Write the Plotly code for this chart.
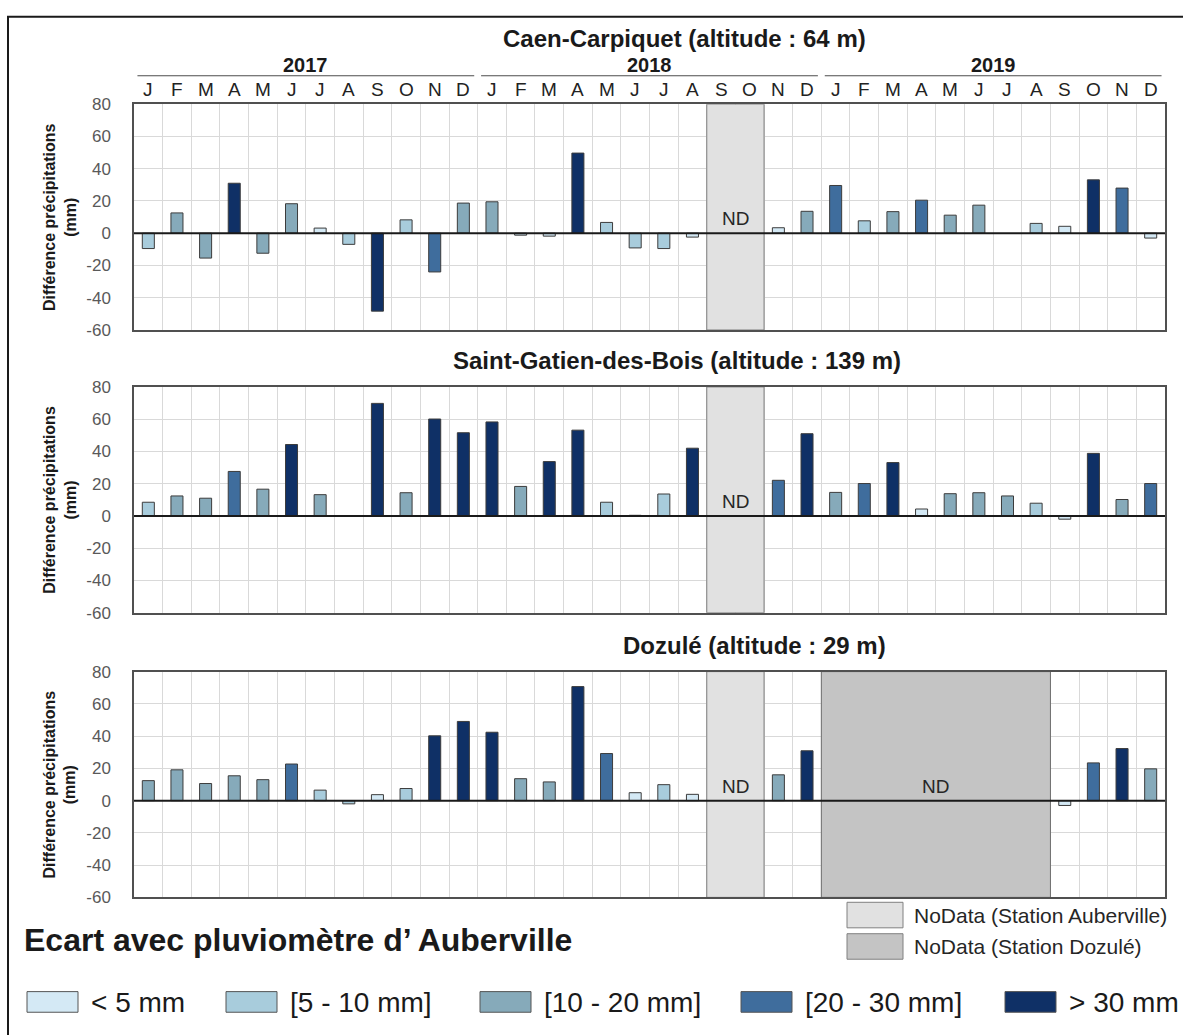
import plotly.graph_objects as go
from plotly.subplots import make_subplots

# data
months = ["J", "F", "M", "A", "M", "J", "J", "A", "S", "O", "N", "D"]
years = ["2017", "2018", "2019"]
stations = ["Caen-Carpiquet (altitude : 64 m)",
            "Saint-Gatien-des-Bois (altitude : 139 m)",
            "Dozulé (altitude : 29 m)"]

classes = ["< 5 mm", "[5 - 10 mm]", "[10 - 20 mm]", "[20 - 30 mm]", "> 30 mm"]
class_colors = ["#d4e9f5", "#a8ccdc", "#86aaba", "#3f6d9d", "#0f3066"]

# monthly difference (mm), Jan 2017 -> Dec 2019, None = no bar
caen = [-9.5, 12.6, -15.4, 31, -12.4, 18.3, 3.2, -6.9, -48.3, 8.3, -24, 18.7,
        19.5, -1.2, -1.8, 49.7, 6.7, -9.1, -9.5, -2.4, None, None, 3.4, 13.6,
        29.6, 7.7, 13.4, 20.5, 11.2, 17.4, None, 6.1, 4.3, 33.1, 28, -3]
caen_cls = [1, 2, 2, 4, 2, 2, 0, 1, 4, 1, 3, 2,
            2, 0, 0, 4, 1, 1, 1, 0, None, None, 0, 2,
            3, 1, 2, 3, 2, 2, None, 1, 0, 4, 3, 0]

gatien = [8.5, 12.4, 11, 27.6, 16.6, 44.3, 13.2, None, 69.8, 14.4, 60.1, 51.6,
          58.3, 18.3, 33.7, 53.2, 8.5, 0.4, 13.6, 42, None, None, 22.1, 51,
          14.6, 20.1, 33.1, 4.3, 13.8, 14.4, 12.4, 7.9, -2, 38.8, 10.2, 20.1]
gatien_cls = [1, 2, 2, 3, 2, 4, 2, None, 4, 2, 4, 4,
              4, 2, 4, 4, 1, 0, 1, 4, None, None, 3, 4,
              2, 3, 4, 0, 2, 2, 2, 1, 0, 4, 2, 3]

dozule = [12.4, 19.1, 10.6, 15.4, 13, 22.7, 6.5, -2, 3.7, 7.5, 40.2, 49.1,
          42.4, 13.6, 11.6, 70.7, 29.2, 4.9, 9.9, 3.9, None, None, 16, 30.9,
          None, None, None, None, None, None, None, None, -3, 23.4, 32.3, 19.7]
dozule_cls = [2, 2, 2, 2, 2, 3, 1, 1, 0, 1, 4, 4,
              4, 2, 2, 4, 3, 0, 1, 0, None, None, 2, 4,
              None, None, None, None, None, None, None, None, 0, 3, 4, 2]

# no-data periods (first, last month index from Jan 2017)
nd_auberville = (20, 21)      # Sep-Oct 2018, all stations
nd_dozule = (24, 31)          # Jan-Aug 2019, Dozulé only
nd_labels = ["NoData (Station Auberville)", "NoData (Station Dozulé)"]
nd_colors = ["#e1e1e1", "#c4c4c4"]

W, H = 1183, 1035
FONT = "Arial, Liberation Sans, sans-serif"
YMIN, YMAX = -60, 80


def px(x):
    return x / W


def py(y):
    return 1 - y / H


series = [(caen, caen_cls), (gatien, gatien_cls), (dozule, dozule_cls)]
panels = [(97, 327), (385, 615), (675, 905)]
title_x = [684, 677, 755]
title_y = [30, 358, 648]

fig = make_subplots(rows=3, cols=1)
x = list(range(36))

for i, (vals, cls) in enumerate(series):
    xr = "x" if i == 0 else f"x{i + 1}"
    yr = "y" if i == 0 else f"y{i + 1}"

    # no-data bands, drawn as full-height bars under the values
    bands = [(nd_auberville, nd_colors[0], "#808080")]
    if i == 2:
        bands.append((nd_dozule, nd_colors[1], "#6e6e6e"))
    for (a, b), fc, lc in bands:
        fig.add_trace(go.Bar(x=[(a + b) / 2], y=[YMAX - YMIN], base=[YMIN], width=[b - a + 1],
                             marker=dict(color=fc, line=dict(color=lc, width=1)),
                             showlegend=False, hoverinfo="skip"), row=i + 1, col=1)
        fig.add_annotation(x=(a + b) / 2, y=9, xref=xr, yref=yr, text="ND", showarrow=False,
                           xanchor="center", yanchor="middle",
                           font=dict(family=FONT, size=19, color="#262626"))

    cols = [class_colors[c] if c is not None else "#ffffff" for c in cls]
    fig.add_trace(go.Bar(x=x, y=vals, width=0.42,
                         marker=dict(color=cols, line=dict(color="#3c3c3c", width=1)),
                         showlegend=False, hoverinfo="x+y"), row=i + 1, col=1)

for i, (top, bot) in enumerate(panels):
    xa = "xaxis" if i == 0 else f"xaxis{i + 1}"
    ya = "yaxis" if i == 0 else f"yaxis{i + 1}"
    xr = "x" if i == 0 else f"x{i + 1}"
    yr = "y" if i == 0 else f"y{i + 1}"
    fig.layout[xa].update(domain=[px(134), px(1165)], range=[-0.5, 35.5],
                          tickvals=[k - 0.5 for k in range(37)], showticklabels=False,
                          ticks="", showgrid=True, gridcolor="#d9d9d9", gridwidth=1,
                          showline=True, mirror=True, linecolor="#505050", linewidth=1.5,
                          zeroline=False, fixedrange=True)
    yt = list(range(YMIN, YMAX + 1, 20))
    fig.layout[ya].update(domain=[py(bot), py(top)], range=[YMIN, YMAX],
                          tickvals=yt, ticktext=[str(v) for v in yt], showgrid=True,
                          gridcolor="#d9d9d9", gridwidth=1, zeroline=False,
                          showline=True, mirror=True, linecolor="#505050", linewidth=1.5,
                          ticks="outside", ticklen=18, tickcolor="rgba(0,0,0,0)",
                          tickfont=dict(family=FONT, size=17, color="#595959"),
                          fixedrange=True)

    # zero line
    fig.add_shape(type="line", xref=f"{xr} domain", yref=yr, x0=0, x1=1, y0=0, y1=0,
                  line=dict(color="#1a1a1a", width=2))

    # panel title
    fig.add_annotation(x=px(title_x[i]), y=py(title_y[i]), xref="paper", yref="paper",
                       xanchor="center", yanchor="middle",
                       text=f"<b>{stations[i]}</b>", showarrow=False,
                       font=dict(family=FONT, size=24, color="#1a1a1a"))
    # y axis title
    fig.add_annotation(x=px(60), y=py((top + bot) / 2), xref="paper", yref="paper",
                       xanchor="center", yanchor="middle",
                       text="<b>Différence précipitations<br>(mm)</b>", showarrow=False,
                       textangle=-90, font=dict(family=FONT, size=16, color="#1a1a1a"))

# month / year header above first panel
for k in range(36):
    fig.add_annotation(x=k, y=py(82), xref="x", yref="paper", text=months[k % 12],
                       xanchor="center", yanchor="middle", showarrow=False,
                       font=dict(family=FONT, size=19, color="#222222"))
for j, yr_txt in enumerate(years):
    fig.add_annotation(x=12 * j + 5.5, y=py(57), xref="x", yref="paper",
                       xanchor="center", yanchor="middle",
                       text=f"<b>{yr_txt}</b>", showarrow=False,
                       font=dict(family=FONT, size=20, color="#1a1a1a"))
    fig.add_shape(type="line", xref="x", yref="paper", x0=12 * j - 0.5 + 0.12,
                  x1=12 * j + 11.5 - 0.12, y0=py(68), y1=py(68),
                  line=dict(color="#4d4d4d", width=1))

# outer frame
fig.add_shape(type="rect", xref="paper", yref="paper", x0=px(8), x1=px(1200),
              y0=py(1050), y1=py(8), line=dict(color="#1a1a1a", width=2))

# bottom legend
fig.add_annotation(x=px(22), y=py(948), xref="paper", yref="paper", xanchor="left",
                   yanchor="middle",
                   text="<b>Ecart avec pluviomètre d’ Auberville</b>", showarrow=False,
                   font=dict(family=FONT, size=32, color="#1a1a1a"))

sw_x = [27, 226, 480, 741, 1005]
for k, lab in enumerate(classes):
    fig.add_shape(type="rect", xref="paper", yref="paper", x0=px(sw_x[k]), x1=px(sw_x[k] + 51),
                  y0=py(1022), y1=py(1001), fillcolor=class_colors[k],
                  line=dict(color="#555555", width=1))
    fig.add_annotation(x=px(sw_x[k] + 62), y=py(1012), xref="paper", yref="paper",
                       xanchor="left", yanchor="middle", text=lab, showarrow=False,
                       font=dict(family=FONT, size=28, color="#1a1a1a"))

for k, lab in enumerate(nd_labels):
    y0 = 910 + 32 * k
    fig.add_shape(type="rect", xref="paper", yref="paper", x0=px(847), x1=px(903),
                  y0=py(y0 + 26), y1=py(y0), fillcolor=nd_colors[k],
                  line=dict(color="#808080", width=1))
    fig.add_annotation(x=px(912), y=py(y0 + 13), xref="paper", yref="paper",
                       xanchor="left", yanchor="middle", text=lab, showarrow=False,
                       font=dict(family=FONT, size=21, color="#262626"))

fig.update_layout(width=W, height=H, margin=dict(l=0, r=0, t=0, b=0),
                  paper_bgcolor="white", plot_bgcolor="white", barmode="overlay",
                  font=dict(family=FONT))

fig.write_html("out.html", config={"displayModeBar": False},
               post_script="document.body.style.margin='0px';")
